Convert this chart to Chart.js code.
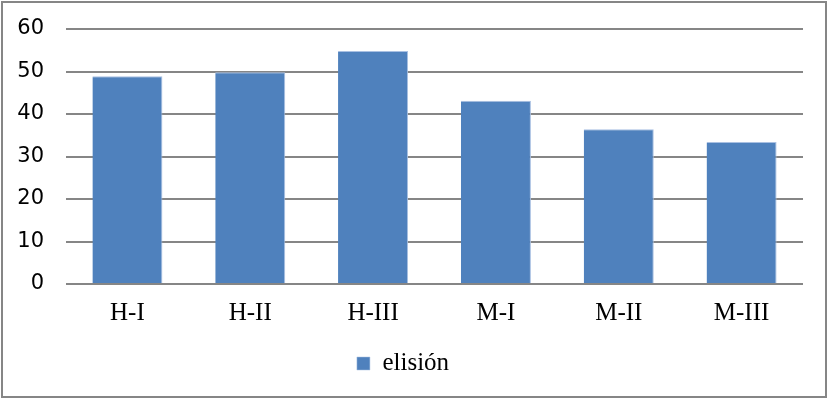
<!DOCTYPE html>
<html>
<head>
<meta charset="utf-8">
<script src="https://cdn.jsdelivr.net/npm/chart.js@4.4.0/dist/chart.umd.min.js"></script>
<style>
  body { margin: 0; background: #fff; }
  #box {
    position: absolute; left: 1px; top: 1px;
    width: 826px; height: 397px;
    box-sizing: border-box;
    border: 2px solid #868686;
    background: #fff;
  }
</style>
</head>
<body>
<div id="box"><canvas id="chart" width="822" height="393"></canvas></div>
<script>
const categories = ['H-I', 'H-II', 'H-III', 'M-I', 'M-II', 'M-III'];
const elision = [48.9, 49.8, 54.8, 43.1, 36.4, 33.4];
const yTicks = [0, 10, 20, 30, 40, 50, 60];

const serif = '"Liberation Serif", "Times New Roman", serif';

const ctx = document.getElementById('chart').getContext('2d');
const chart = new Chart(ctx, {
    type: 'bar',
    data: {
        labels: categories,
        datasets: [{
            label: 'elisión',
            data: elision,
            backgroundColor: '#4f81bd',
            borderColor: '#a9c0e2',
            borderWidth: { top: 1, right: 1, left: 0, bottom: 0 },
            barPercentage: 0.57,
            categoryPercentage: 1
        }]
    },
    options: {
        responsive: false,
        animation: false,
        layout: { padding: { top: 26, right: 22, left: 0, bottom: 10 } },
        plugins: {
            tooltip: { enabled: false },
            legend: {
                position: 'bottom',
                labels: {
                    boxWidth: 13,
                    boxHeight: 13,
                    padding: 10,
                    color: '#000',
                    font: { family: serif, size: 25 }
                }
            }
        },
        scales: {
            x: {
                grid: { display: false, drawTicks: false },
                border: { display: false },
                ticks: {
                    padding: 14,
                    color: '#000',
                    font: { family: serif, size: 25 }
                },
                afterFit: (scale) => { scale.height = 57; }
            },
            y: {
                min: 0,
                max: 60,
                afterBuildTicks: (scale) => { scale.ticks = yTicks.map(v => ({ value: v })); },
                grid: { color: '#868686', lineWidth: 2, drawTicks: false },
                border: { display: false },
                ticks: {
                    padding: 22,
                    color: '#000',
                    font: { family: '"DejaVu Sans", Verdana, sans-serif', size: 21 }
                },
                afterFit: (scale) => {
                    scale.width = 63;
                    // tick padding would otherwise push the plot down
                    scale.paddingTop = 0;
                    scale.paddingBottom = 0;
                }
            }
        }
    }
});
</script>
</body>
</html>
